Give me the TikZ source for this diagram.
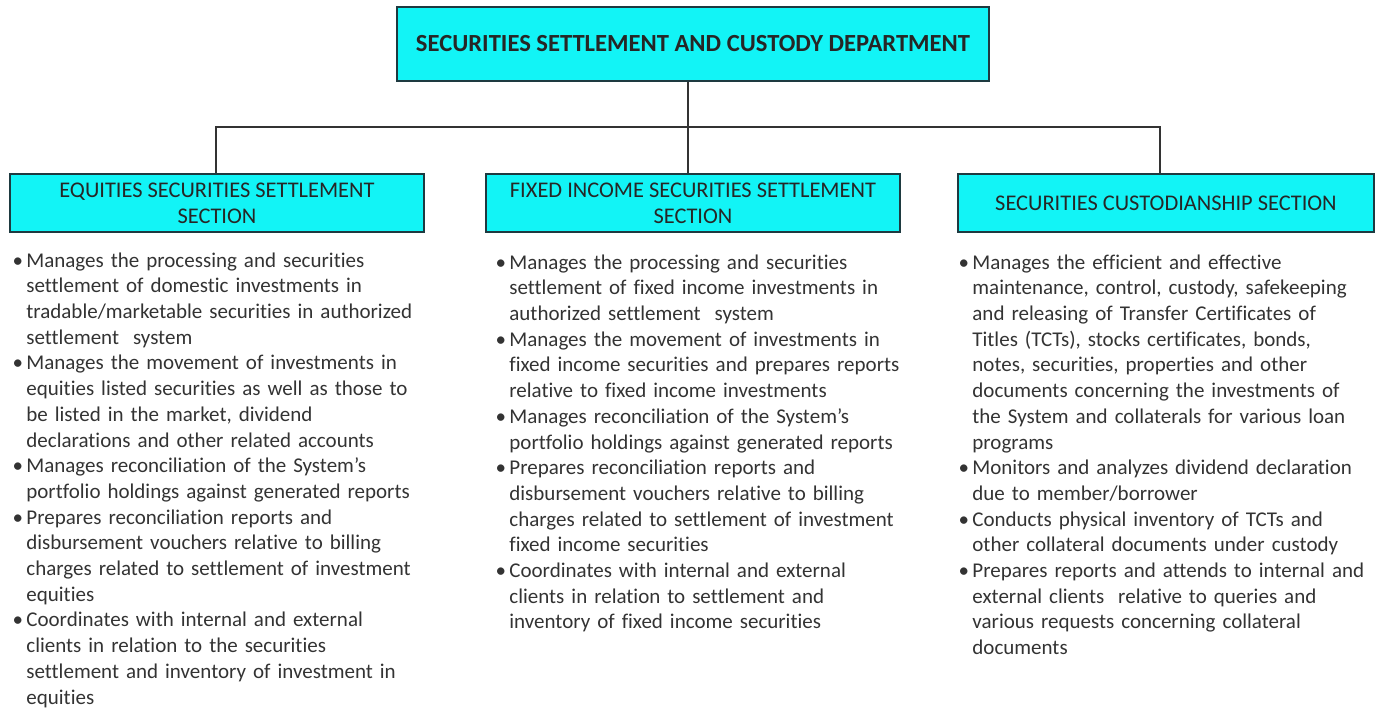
\documentclass[tikz,border=0pt]{standalone}
\usepackage{fontspec}
\setmainfont{Carlito}[Ligatures=NoCommon]
\usepackage{xcolor}
\usetikzlibrary{positioning}
\definecolor{boxcyan}{HTML}{12F4F6}
\definecolor{boxline}{HTML}{1E3A40}
\definecolor{bodytext}{HTML}{333333}
\newcommand{\bitem}[1]{\par\noindent\hangindent=7.5pt\hangafter=1%
  \makebox[7.5pt][l]{\hspace{0.6pt}\textbullet}#1\par}

\begin{document}
\begin{tikzpicture}[x=0.5pt, y=-0.5pt]

                % boxes of the chart
                \tikzset{unit/.style={draw=boxline, line width=1pt, fill=boxcyan,
                    text=black!85, align=center, inner sep=0pt,
                    font=\fontsize{11.2}{13}\selectfont},
                    duties/.style={anchor=north west, inner sep=0pt,
                    text width=230pt, align=left, text=bodytext,
                    font=\fontsize{10.5}{12.85}\selectfont}}

                \useasboundingbox (0, 0) rectangle (1380, 709);

                \node[unit, minimum width=296pt, minimum height=37pt,
                    font=\fontsize{12.3}{14}\selectfont\bfseries] (dept) at (693, 44)
                    {SECURITIES SETTLEMENT AND CUSTODY DEPARTMENT};

                \node[unit, minimum width=207pt, minimum height=29pt] (eq) at (217, 203)
                    {EQUITIES SECURITIES SETTLEMENT\\SECTION};
                \node[unit, minimum width=207pt, minimum height=29pt] (fi) at (693, 203)
                    {FIXED INCOME SECURITIES SETTLEMENT\\SECTION};
                \node[unit, minimum width=208pt, minimum height=29pt] (cust) at (1166, 203)
                    {SECURITIES CUSTODIANSHIP SECTION};

                \coordinate (bus) at (688, 127);

                \begin{scope}[draw=black!80, line width=0.75pt]
                    \draw (bus |- dept.south) -- (bus);
                    \draw (bus) -- (bus |- fi.north);
                    \draw ([xshift=-0.5pt]eq.north) |- (bus) -| ([xshift=-3pt]cust.north);
                \end{scope}

                % duties of each section
                \node[duties] (eqlist) at (11, 241) {%
                    \bitem{Manages the processing and securities\newline
                    settlement of domestic investments in\newline
                    tradable/marketable securities in authorized\newline
                    settlement\ \ system}
                    \bitem{Manages the movement of investments in\newline
                    equities listed securities as well as those to\newline
                    be listed in the market, dividend\newline
                    declarations and other related accounts}
                    \bitem{Manages reconciliation of the System’s\newline
                    portfolio holdings against generated reports}
                    \bitem{Prepares reconciliation reports and\newline
                    disbursement vouchers relative to billing\newline
                    charges related to settlement of investment\newline
                    equities}
                    \bitem{Coordinates with internal and external\newline
                    clients in relation to the securities\newline
                    settlement and inventory of investment in\newline
                    equities}};

                \node[duties] (filist) at (494, 243) {%
                    \bitem{Manages the processing and securities\newline
                    settlement of fixed income investments in\newline
                    authorized settlement\ \ system}
                    \bitem{Manages the movement of investments in\newline
                    fixed income securities and prepares reports\newline
                    relative to fixed income investments}
                    \bitem{Manages reconciliation of the System’s\newline
                    portfolio holdings against generated reports}
                    \bitem{Prepares reconciliation reports and\newline
                    disbursement vouchers relative to billing\newline
                    charges related to settlement of investment\newline
                    fixed income securities}
                    \bitem{Coordinates with internal and external\newline
                    clients in relation to settlement and\newline
                    inventory of fixed income securities}};

                \node[duties] (custlist) at (957, 243) {%
                    \bitem{Manages the efficient and effective\newline
                    maintenance, control, custody, safekeeping\newline
                    and releasing of Transfer Certificates of\newline
                    Titles (TCTs), stocks certificates, bonds,\newline
                    notes, securities, properties and other\newline
                    documents concerning the investments of\newline
                    the System and collaterals for various loan\newline
                    programs}
                    \bitem{Monitors and analyzes dividend declaration\newline
                    due to member/borrower}
                    \bitem{Conducts physical inventory of TCTs and\newline
                    other collateral documents under custody}
                    \bitem{Prepares reports and attends to internal and\newline
                    external clients\ \ relative to queries and\newline
                    various requests concerning collateral\newline
                    documents}};

\end{tikzpicture}
\end{document}
